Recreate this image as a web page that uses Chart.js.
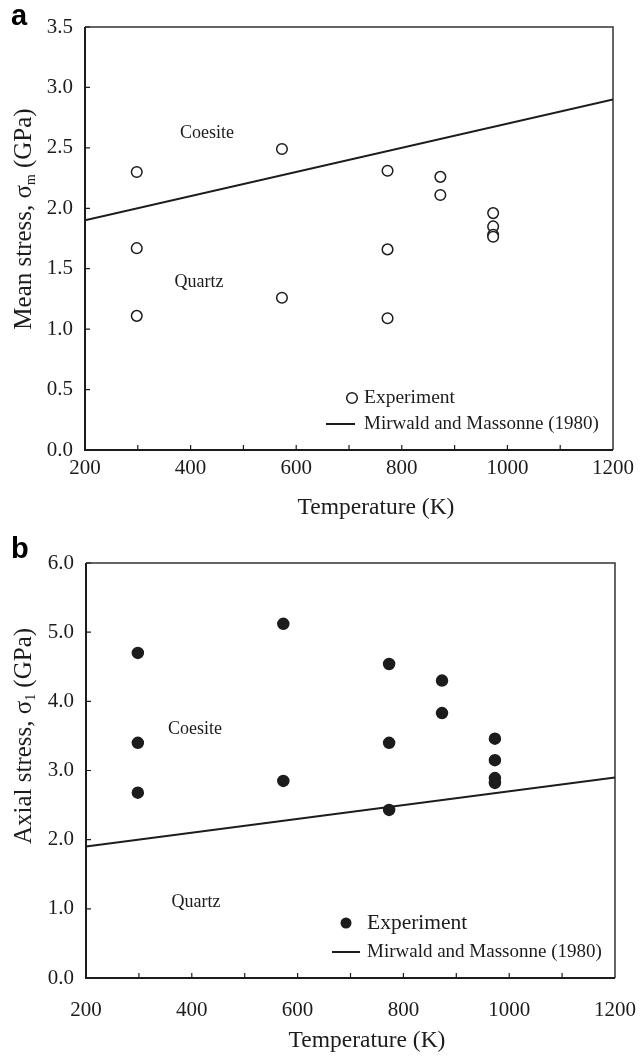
<!DOCTYPE html>
<html>
<head>
<title>Coesite / quartz stress vs temperature</title>
<style>
    body { margin: 0; background: #fff; }
    canvas { display: block; }
</style>
</head>
<body>
<canvas id="chartA" width="643" height="530"></canvas>
<canvas id="chartB" width="643" height="529"></canvas>

<script src="https://cdn.jsdelivr.net/npm/chart.js@4.4.1/dist/chart.umd.min.js"></script>
<script>
    // ---- data ----
    const tempTicks = [200, 400, 600, 800, 1000, 1200];
    const meanTicks = [0, 0.5, 1.0, 1.5, 2.0, 2.5, 3.0, 3.5];
    const axialTicks = [0, 1, 2, 3, 4, 5, 6];

    // panel a : mean stress
    const tempA   = [298, 298, 298, 573, 573, 773, 773, 773, 873, 873, 973, 973, 973, 973];
    const meanA   = [2.30, 1.67, 1.11, 2.49, 1.26, 2.31, 1.66, 1.09, 2.26, 2.11, 1.96, 1.85, 1.78, 1.765];

    // panel b : axial stress
    const tempB   = [298, 298, 298, 573, 573, 773, 773, 773, 873, 873, 973, 973, 973, 973];
    const axialB  = [4.70, 3.40, 2.68, 5.12, 2.85, 4.54, 3.40, 2.43, 4.30, 3.83, 3.46, 3.15, 2.89, 2.82];

    // Mirwald and Massonne (1980) boundary
    const boundaryT = [200, 1200];
    const boundaryP = [1.9, 2.9];

    const SERIF = '"Liberation Serif", "Times New Roman", serif';
    const INK = '#1c1c1c';

    function pts(xs, ys) {
        return xs.map((x, i) => ({ x: x, y: ys[i] }));
    }

    function serif(size) {
        return size + 'px ' + SERIF;
    }

    // draw text made of parts, some subscripted; rotated for y titles
    function drawParts(ctx, cx, cy, parts, size, rotate) {
        ctx.save();
        ctx.translate(cx, cy);
        if (rotate) ctx.rotate(-Math.PI / 2);
        let total = 0;
        parts.forEach(p => {
            ctx.font = serif(p.sub ? size * 0.55 : size);
            total += ctx.measureText(p.t).width;
        });
        let x = -total / 2;
        ctx.fillStyle = INK;
        ctx.textAlign = 'left';
        ctx.textBaseline = 'middle';
        parts.forEach(p => {
            ctx.font = serif(p.sub ? size * 0.55 : size);
            ctx.fillText(p.t, x, p.sub ? size * 0.28 : 0);
            x += ctx.measureText(p.t).width;
        });
        ctx.restore();
    }

    function makeDecor(cfg) {
        return {
            id: 'decor',
            beforeDatasetsDraw(chart) {
                const ctx = chart.ctx;
                const a = chart.chartArea;
                const xs = chart.scales.x;
                const ys = chart.scales.y;
                ctx.save();
                // frame
                ctx.strokeStyle = '#333';
                ctx.lineWidth = 1.5;
                ctx.beginPath();
                ctx.moveTo(a.left, a.top);
                ctx.lineTo(a.right, a.top);
                ctx.lineTo(a.right, a.bottom);
                ctx.stroke();
                ctx.strokeStyle = INK;
                ctx.lineWidth = 2;
                ctx.beginPath();
                ctx.moveTo(a.left, a.top);
                ctx.lineTo(a.left, a.bottom);
                ctx.lineTo(a.right, a.bottom);
                ctx.stroke();
                // inward ticks
                ctx.lineWidth = 1.2;
                ctx.beginPath();
                for (let t = 300; t < 1200; t += 100) {
                    const px = xs.getPixelForValue(t);
                    ctx.moveTo(px, a.bottom);
                    ctx.lineTo(px, a.bottom - 5);
                }
                cfg.yTicks.forEach(v => {
                    const py = ys.getPixelForValue(v);
                    ctx.moveTo(a.left, py);
                    ctx.lineTo(a.left + 5, py);
                });
                ctx.stroke();
                ctx.restore();
            },
            afterDraw(chart) {
                const ctx = chart.ctx;
                const xs = chart.scales.x;
                const ys = chart.scales.y;
                ctx.save();
                // panel letter
                ctx.fillStyle = '#000';
                ctx.font = 'bold 29px "Liberation Sans", Arial, sans-serif';
                ctx.textAlign = 'left';
                ctx.textBaseline = 'alphabetic';
                ctx.fillText(cfg.letter, 11, cfg.letterY);

                // region labels
                ctx.fillStyle = INK;
                ctx.font = serif(18);
                ctx.textAlign = 'center';
                ctx.textBaseline = 'middle';
                cfg.regions.forEach(r => {
                    ctx.fillText(r.t, xs.getPixelForValue(r.x), ys.getPixelForValue(r.y));
                });

                // legend
                const L = cfg.legend;
                if (cfg.filled) {
                    ctx.fillStyle = INK;
                    ctx.beginPath();
                    ctx.arc(L.markX, L.row1, 5.5, 0, Math.PI * 2);
                    ctx.fill();
                } else {
                    ctx.strokeStyle = INK;
                    ctx.lineWidth = 1.5;
                    ctx.fillStyle = '#fff';
                    ctx.beginPath();
                    ctx.arc(L.markX, L.row1, 5.3, 0, Math.PI * 2);
                    ctx.fill();
                    ctx.stroke();
                }
                ctx.strokeStyle = INK;
                ctx.lineWidth = 2;
                ctx.beginPath();
                ctx.moveTo(L.lineX0, L.row2);
                ctx.lineTo(L.lineX1, L.row2);
                ctx.stroke();
                ctx.fillStyle = INK;
                ctx.textAlign = 'left';
                ctx.font = serif(L.size1);
                ctx.fillText('Experiment', L.textX, L.row1);
                ctx.font = serif(L.size2);
                ctx.fillText('Mirwald and Massonne (1980)', L.textX, L.row2);

                // axis titles
                drawParts(ctx, cfg.yTitle.x, cfg.yTitle.y, cfg.yTitle.parts, 25, true);
                drawParts(ctx, cfg.xTitle.x, cfg.xTitle.y, [{ t: 'Temperature (K)' }], 23.5, false);
                ctx.restore();
            }
        };
    }

    function buildChart(id, opts) {
        const canvas = document.getElementById(id);
        return new Chart(canvas, {
            type: 'scatter',
            data: {
                datasets: [
                    {
                        label: 'Experiment',
                        data: pts(opts.temps, opts.values),
                        pointStyle: 'circle',
                        pointRadius: opts.filled ? 5.5 : 5.3,
                        pointBorderWidth: 1.5,
                        pointBorderColor: INK,
                        pointBackgroundColor: opts.filled ? INK : '#fff'
                    },
                    {
                        label: 'Mirwald and Massonne (1980)',
                        data: pts(boundaryT, boundaryP),
                        showLine: true,
                        borderColor: INK,
                        borderWidth: 2,
                        pointRadius: 0
                    }
                ]
            },
            options: {
                responsive: false,
                animation: false,
                events: [],
                layout: { padding: { top: opts.top, right: 643 - opts.right, left: 0, bottom: 0 } },
                plugins: { legend: { display: false }, tooltip: { enabled: false } },
                scales: {
                    x: {
                        type: 'linear',
                        min: 200,
                        max: 1200,
                        afterFit: s => { s.height = opts.height - opts.bottom; },
                        afterBuildTicks: s => { s.ticks = tempTicks.map(v => ({ value: v })); },
                        grid: { display: false, drawTicks: false },
                        border: { display: false },
                        ticks: {
                            padding: 6,
                            maxRotation: 0,
                            color: INK,
                            font: { family: SERIF, size: 21, lineHeight: opts.xLine },
                            callback: v => String(v)
                        }
                    },
                    y: {
                        type: 'linear',
                        min: 0,
                        max: opts.yMax,
                        afterFit: s => { s.width = opts.left; },
                        afterBuildTicks: s => { s.ticks = opts.yTicks.map(v => ({ value: v })); },
                        grid: { display: false, drawTicks: false },
                        border: { display: false },
                        ticks: {
                            padding: 12,
                            color: INK,
                            font: { family: SERIF, size: 21 },
                            callback: v => v.toFixed(1)
                        }
                    }
                }
            },
            plugins: [makeDecor(opts)]
        });
    }

    document.addEventListener('DOMContentLoaded', function () {
        buildChart('chartA', {
            temps: tempA, values: meanA, filled: false,
            height: 530, top: 27, bottom: 450, left: 85, right: 613, xLine: 1.2,
            yMax: 3.5, yTicks: meanTicks,
            letter: 'a', letterY: 25,
            regions: [{ t: 'Coesite', x: 431, y: 2.62 }, { t: 'Quartz', x: 416, y: 1.384 }],
            legend: { markX: 352, row1: 398, row2: 424, lineX0: 326, lineX1: 355, textX: 364, size1: 19.5, size2: 19 },
            yTitle: { x: 24, y: 219, parts: [{ t: 'Mean stress, σ' }, { t: 'm', sub: true }, { t: ' (GPa)' }] },
            xTitle: { x: 376, y: 508 }
        });
        buildChart('chartB', {
            temps: tempB, values: axialB, filled: true,
            height: 529, top: 33, bottom: 448, left: 86, right: 615, xLine: 2.48,
            yMax: 6, yTicks: axialTicks,
            letter: 'b', letterY: 28,
            regions: [{ t: 'Coesite', x: 406, y: 3.6 }, { t: 'Quartz', x: 408, y: 1.09 }],
            legend: { markX: 346, row1: 393, row2: 422, lineX0: 332, lineX1: 360, textX: 367, size1: 21.5, size2: 19 },
            yTitle: { x: 24, y: 206, parts: [{ t: 'Axial stress, σ' }, { t: '1', sub: true }, { t: ' (GPa)' }] },
            xTitle: { x: 367, y: 511 }
        });
    });
</script>
</body>
</html>
